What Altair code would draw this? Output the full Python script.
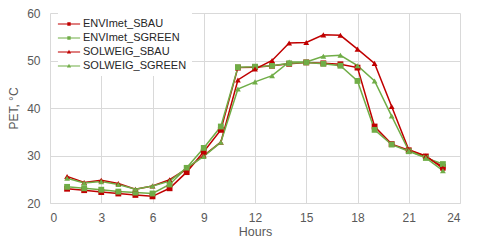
import altair as alt
import pandas as pd

hours = list(range(1, 24))
series_names = ["ENVImet_SBAU", "ENVImet_SGREEN", "SOLWEIG_SBAU", "SOLWEIG_SGREEN"]
envimet_sbau = [23.0, 22.7, 22.3, 22.0, 21.7, 21.4, 23.1, 26.5, 30.8, 35.4, 48.5, 48.6, 48.9, 49.3, 49.6,
                49.4, 49.2, 48.5, 36.1, 32.4, 31.1, 29.8, 27.6]
envimet_sgreen = [23.4, 23.1, 22.8, 22.4, 22.2, 22.0, 23.9, 27.4, 31.6, 36.1, 48.6, 48.7, 48.9, 49.4, 49.6,
                  49.3, 48.9, 45.7, 35.4, 32.3, 30.9, 29.5, 28.2]
solweig_sbau = [25.6, 24.3, 24.8, 24.1, 22.9, 23.6, 24.9, 27.2, 30.0, 32.8, 45.9, 48.2, 50.0, 53.7, 53.8,
                55.4, 55.3, 52.4, 49.4, 40.3, 31.2, 29.9, 27.3]
solweig_sgreen = [25.2, 24.2, 24.5, 23.9, 22.9, 23.6, 24.6, 27.4, 29.8, 32.8, 44.0, 45.5, 46.8, 49.7, 49.7,
                  50.9, 51.1, 48.9, 45.7, 38.3, 31.0, 29.5, 26.8]
colors = ["#c00000", "#70ad47", "#c00000", "#70ad47"]
shapes = ["square", "square", "triangle-up", "triangle-up"]
marker_sizes = [34, 34, 52, 52]
x_ticks = [0, 3, 6, 9, 12, 15, 18, 21, 24]
y_ticks = [20, 25, 30, 35, 40, 45, 50, 55, 60]

rows = []
for name, vals in zip(series_names, [envimet_sbau, envimet_sgreen, solweig_sbau, solweig_sgreen]):
    for h, v in zip(hours, vals):
        rows.append({"hour": h, "pet": v, "series": name})
df = pd.DataFrame(rows)

FONT = "Liberation Sans"
GRAY = "#595959"

# legend glyphs: a line segment with a marker, drawn as filled paths
line_seg = "M-1.85,-0.065H1.85V0.065H-1.85Z"
sq_path = line_seg + "M-0.28,-0.28H0.28V0.28H-0.28Z"
tri_path = line_seg + "M0,-0.38L0.35,0.25H-0.35Z"
legend_shapes = [sq_path, sq_path, tri_path, tri_path]

x_enc = alt.X("hour:Q", scale=alt.Scale(domain=[0, 24], nice=False),
              axis=alt.Axis(values=x_ticks, title="Hours", grid=True, gridColor="#d9d9d9",
                            domainColor="#d9d9d9", ticks=False, labelPadding=9,
                            labelColor=GRAY, labelFont=FONT, labelFontSize=12,
                            titleColor=GRAY, titleFont=FONT, titleFontSize=12.5,
                            titleFontWeight="normal", titlePadding=2))
y_enc = alt.Y("pet:Q", scale=alt.Scale(domain=[20, 60], nice=False),
              axis=alt.Axis(values=y_ticks, title="PET, °C", grid=True, gridColor="#d9d9d9",
                            domain=False, ticks=False, labelPadding=10,
                            labelColor=GRAY, labelFont=FONT, labelFontSize=12,
                            titleColor=GRAY, titleFont=FONT, titleFontSize=12,
                            titleFontWeight="normal", titlePadding=6))
color_scale = alt.Scale(domain=series_names, range=colors)

lines = alt.Chart(df).mark_line(strokeWidth=1.5).encode(
    x=x_enc, y=y_enc,
    color=alt.Color("series:N", scale=color_scale, legend=None),
    detail="series:N",
)

points = alt.Chart(df).mark_point(filled=True, opacity=1).encode(
    x="hour:Q", y="pet:Q",
    color=alt.Color("series:N", scale=color_scale, legend=None),
    shape=alt.Shape("series:N", scale=alt.Scale(domain=series_names, range=shapes), legend=None),
    size=alt.Size("series:N", scale=alt.Scale(domain=series_names, range=marker_sizes), legend=None),
)

legend_props = dict(
    orient="none", legendX=8, legendY=0, title=None,
    fillColor="white", padding=5, symbolSize=144, symbolStrokeWidth=0,
    labelFont=FONT, labelFontSize=11, labelColor="#262626",
    rowPadding=3, labelOffset=8)

legend_layer = alt.Chart(df).transform_filter("false").mark_point(filled=True, opacity=1, size=144).encode(
    x="hour:Q", y="pet:Q",
    color=alt.Color("series:N", scale=color_scale, legend=alt.Legend(**legend_props)),
    shape=alt.Shape("series:N", scale=alt.Scale(domain=series_names, range=legend_shapes),
                    legend=alt.Legend(**legend_props)),
)

chart = alt.layer(lines, points, legend_layer).resolve_scale(
    color="independent", shape="independent", size="independent"
).properties(
    width=410, height=190,
    autosize=alt.AutoSizeParams(type="none"),
    padding={"left": 42, "top": 5, "right": 10, "bottom": 37},
).configure_view(stroke=None)

chart.save("out.html", embed_options={"renderer": "svg", "actions": False})
